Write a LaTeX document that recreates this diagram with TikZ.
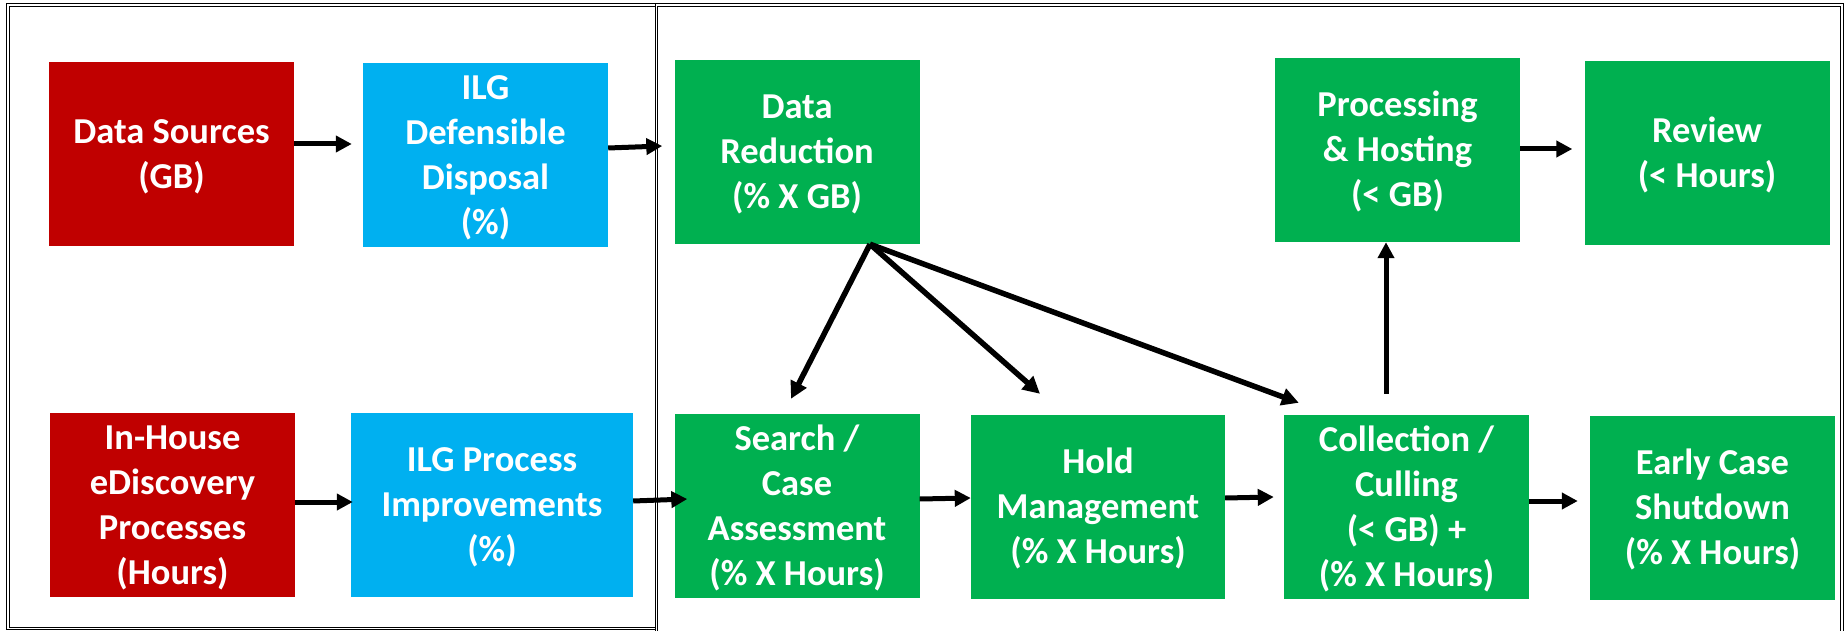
\documentclass[tikz,border=0pt]{standalone}
\usepackage{fontspec}
\setmainfont{Carlito}
\usetikzlibrary{arrows.meta,calc}
\definecolor{cred}{HTML}{C00000}
\definecolor{cblue}{HTML}{00B0F0}
\definecolor{cgreen}{HTML}{00B050}
\newcommand\bxs{\rule[-10.6pt]{0pt}{45pt}}
\begin{document}
\begin{tikzpicture}[x=1pt,y=-1pt,
  box/.style={inner sep=0pt, minimum width=245pt, minimum height=184pt, align=center, text=white,
    font=\fontsize{36.5}{45}\selectfont\bfseries},
  redbox/.style={box, fill=cred},
  bluebox/.style={box, fill=cblue},
  greenbox/.style={box, fill=cgreen},
  arr/.style={line width=5pt, -{Triangle[length=16pt,width=16pt]}},
  diag/.style={line width=5.5pt, -{Triangle[length=17pt,width=17pt]}},
  frame/.style={draw=black, line width=1pt, double=white, double distance=1.6pt}
]
\useasboundingbox (0,0) rectangle (1845,631);
\fill[white] (0,0) rectangle (1845,631);
% frames
\draw[frame] (8,5) rectangle (656.5,628.5);
\draw[frame] (656.5,633) -- (656.5,5) -- (1842,5) -- (1842,633);
% nodes
\node[redbox] (DS) at (171.5,154) {\bxs Data Sources\\(GB)\bxs};
\node[bluebox] (DD) at (485.5,155) {\bxs ILG\\Defensible\\Disposal\\(\%)\bxs};
\node[greenbox] (DR) at (797,152) {\bxs Data\\Reduction\\(\% X GB)\bxs};
\node[greenbox] (PH) at (1397.5,150) {\bxs Processing\\\& Hosting\\(< GB)\bxs};
\node[greenbox] (RV) at (1707,153) {\bxs Review\\(< Hours)\bxs};
\node[redbox] (IH) at (172.5,505) {\bxs In-House\\eDiscovery\\Processes\\(Hours)\bxs};
\node[bluebox, minimum width=282pt] (PI) at (492,505) {\bxs ILG Process\\Improvements\\(\%)\bxs};
\node[greenbox] (SC) at (797,506) {\bxs Search /\\Case\\Assessment\\(\% X Hours)\bxs};
\node[greenbox, minimum width=254pt] (HM) at (1098,507) {\bxs Hold\\Management\\(\% X Hours)\bxs};
\node[greenbox] (CC) at (1406.5,507) {\bxs Collection /\\Culling\\(< GB) +\\(\% X Hours)\bxs};
\node[greenbox] (EC) at (1712.5,508) {\bxs Early Case\\Shutdown\\(\% X Hours)\bxs};
% horizontal connectors
\draw[arr] ([yshift=10pt]DS.east) -- ([xshift=-11pt,yshift=11pt]DD.west);
\draw[arr] ([yshift=7pt]DD.east) -- ([xshift=-12pt,yshift=6pt]DR.west);
\draw[arr] ([yshift=3pt]IH.east) -- ([xshift=2pt,yshift=3pt]PI.west);
\draw[arr] ([yshift=4pt]PI.east) -- ([xshift=13pt,yshift=7pt]SC.west);
\draw[arr] ([yshift=7pt]SC.east) -- ([yshift=9pt]HM.west);
\draw[arr] ([yshift=9pt]HM.east) -- ([xshift=-10pt,yshift=10pt]CC.west);
\draw[arr] ([yshift=6pt]CC.east) -- ([xshift=-12pt,yshift=7pt]EC.west);
\draw[arr] ([yshift=1pt]PH.east) -- ([xshift=-12pt,yshift=4pt]RV.west);
% vertical connector
\coordinate (cu) at ($(CC.north)+(-20.5,-21)$);
\draw[arr] (cu) -- (cu |- PH.south);
% fan from Data Reduction
\coordinate (ap) at ($(DR.south)+(73,0)$);
\draw[diag] (ap) -- ($(SC.north)+(-6,-15)$);
\draw[diag] (ap) -- ($(HM.north)+(-58,-21)$);
\draw[diag] (ap) -- ($(CC.north west)+(15,-12)$);
\end{tikzpicture}
\end{document}
